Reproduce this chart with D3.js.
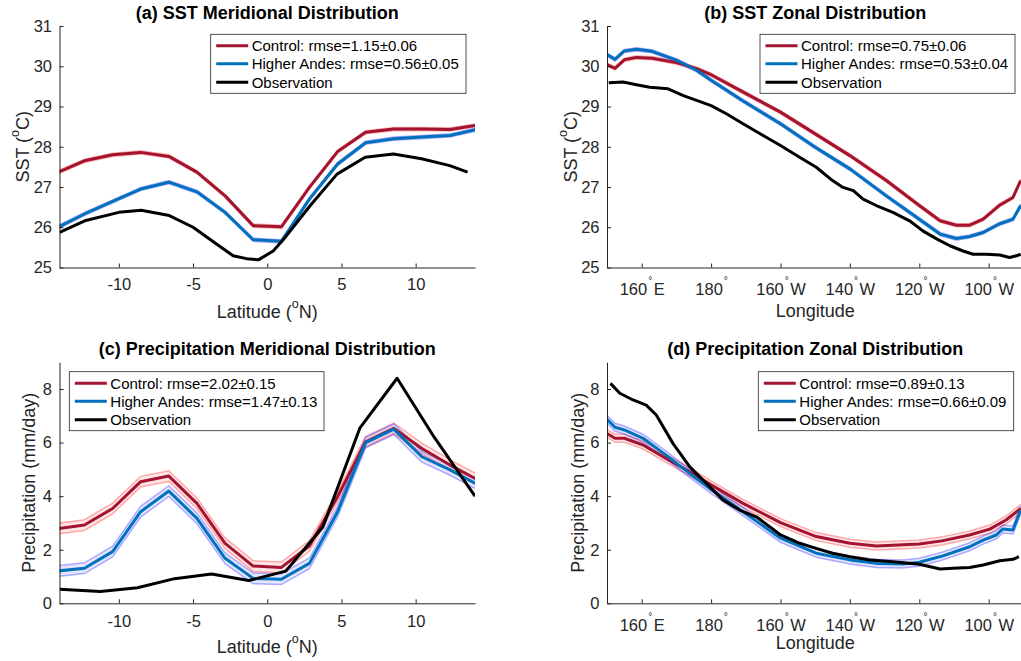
<!DOCTYPE html>
<html>
<head>
<meta charset="utf-8">
<script src="https://cdn.jsdelivr.net/npm/d3@7"></script>
<style>
  body { margin: 0; background: #fff; }
  svg { display: block; font-family: "Liberation Sans", Arial, Helvetica, sans-serif; }
</style>
</head>
<body>
<svg id="fig" width="1021" height="661"></svg>
<script>
// ---- data ----
var latModel = [-14.21, -12.32, -10.42, -8.53, -6.63, -4.74, -2.84, -0.95, 0.95, 2.84, 4.74, 6.63, 8.53, 10.42, 12.32, 14.21];

// (a) SST meridional
var sstMerCtl = [27.35, 27.65, 27.80, 27.86, 27.76, 27.37, 26.78, 26.04, 26.01, 26.99, 27.88, 28.36, 28.44, 28.44, 28.43, 28.54];
var sstMerHA  = [25.98, 26.33, 26.64, 26.95, 27.12, 26.88, 26.37, 25.69, 25.65, 26.70, 27.57, 28.10, 28.20, 28.24, 28.28, 28.44];
var sstMerObsLat = [-14, -12.3, -10, -8.5, -6.6, -5, -3.4, -2.3, -1.4, -0.6, 0.4, 1.1, 2.9, 4.7, 6.6, 8.5, 10.4, 12.3, 13.5];
var sstMerObs    = [25.87, 26.16, 26.37, 26.42, 26.29, 26.0, 25.58, 25.29, 25.22, 25.19, 25.41, 25.70, 26.54, 27.32, 27.74, 27.82, 27.70, 27.53, 27.37];

// (b) SST zonal (longitude in degrees east)
var sstZonLon = [150, 152.3, 155, 158.5, 163, 170, 175.8, 180, 189, 200, 210, 220, 230.5, 240, 246, 250.7, 254.5, 258.4, 263, 267, 269.2];
var sstZonCtl = [30.04, 29.95, 30.16, 30.22, 30.20, 30.09, 29.94, 29.79, 29.37, 28.86, 28.32, 27.78, 27.16, 26.54, 26.16, 26.05, 26.05, 26.20, 26.54, 26.74, 27.16];
var sstZonHA  = [30.29, 30.17, 30.38, 30.42, 30.37, 30.15, 29.90, 29.65, 29.15, 28.57, 27.99, 27.45, 26.78, 26.20, 25.83, 25.72, 25.77, 25.87, 26.08, 26.20, 26.54];
var sstZonObsLon = [150.5, 154.6, 158.5, 162.3, 167.6, 172, 175.8, 180, 184.4, 189.2, 195, 200, 205.5, 210.3, 215, 218, 221, 223.8, 227.6, 232.4, 237.2, 241, 245, 248.8, 252.6, 255.5, 259.3, 263.2, 266, 268, 269.2];
var sstZonObs    = [29.59, 29.61, 29.54, 29.48, 29.44, 29.27, 29.15, 29.02, 28.82, 28.57, 28.28, 28.03, 27.74, 27.49, 27.16, 26.99, 26.91, 26.70, 26.54, 26.37, 26.16, 25.91, 25.71, 25.54, 25.41, 25.33, 25.33, 25.31, 25.25, 25.29, 25.33];

// (c) precipitation meridional
var prMerCtl = [2.78, 2.92, 3.54, 4.54, 4.75, 3.73, 2.24, 1.39, 1.34, 2.14, 3.98, 6.03, 6.53, 5.78, 5.16, 4.60];
var prMerHA  = [1.20, 1.31, 1.93, 3.42, 4.19, 3.17, 1.68, 0.93, 0.90, 1.49, 3.42, 6.00, 6.50, 5.47, 4.98, 4.42];
var prMerObsLat = [-14, -11.25, -8.75, -6.25, -3.75, -1.25, 1.25, 3.75, 6.25, 8.75, 11.25, 14];
var prMerObs    = [0.52, 0.44, 0.58, 0.92, 1.09, 0.85, 1.20, 2.85, 6.55, 8.40, 6.20, 4.00];

// (d) precipitation zonal
var prZonCtlLon = [150, 152.3, 155, 160.4, 167, 173.8, 180, 189.2, 200, 210.3, 220, 227.6, 240, 246.5, 254.5, 260.3, 265, 269.2];
var prZonCtl    = [6.34, 6.16, 6.16, 5.91, 5.41, 4.91, 4.42, 3.73, 3.01, 2.49, 2.24, 2.14, 2.21, 2.33, 2.55, 2.77, 3.11, 3.54];
var prZonHALon  = [150, 152.3, 155, 160.4, 167, 173.8, 180, 189.2, 200, 210.3, 220, 227.6, 235.3, 240, 246.8, 254.5, 258.4, 262.2, 264, 267, 269.2];
var prZonHA     = [6.87, 6.57, 6.47, 6.16, 5.53, 4.85, 4.25, 3.42, 2.43, 1.87, 1.62, 1.49, 1.47, 1.53, 1.77, 2.11, 2.36, 2.55, 2.77, 2.74, 3.48];
var prZonObsLon = [151, 153.7, 157.5, 161.3, 164.2, 169, 173.8, 178.6, 183.4, 188.2, 193, 196.9, 200, 205.5, 210.3, 215, 220, 225.7, 232.4, 240, 246, 249.7, 254.5, 258.4, 263.2, 267, 268.7];
var prZonObs    = [8.21, 7.84, 7.59, 7.40, 7.03, 5.97, 5.10, 4.48, 3.86, 3.48, 3.23, 2.86, 2.55, 2.24, 2.05, 1.87, 1.74, 1.62, 1.55, 1.46, 1.28, 1.31, 1.34, 1.43, 1.59, 1.64, 1.74];

// ensemble spread (half width) per panel
var sprSstMer = 0.04, sprSstZon = 0.04, sprPrMer = 0.2, sprPrZon = 0.15;

// ticks
var latTicks = [-10, -5, 0, 5, 10];
var lonTicks = [160, 180, 200, 220, 240, 260];
var lonTickNum  = ['160', '180', '160', '140', '120', '100'];
var lonTickHemi = ['E', '', 'W', 'W', 'W', 'W'];
var sstTicks = [25, 26, 27, 28, 29, 30, 31];
var prTicks = [0, 2, 4, 6, 8];

var legA = ['Control: rmse=1.15\u00b10.06', 'Higher Andes: rmse=0.56\u00b10.05', 'Observation'];
var legB = ['Control: rmse=0.75\u00b10.06', 'Higher Andes: rmse=0.53\u00b10.04', 'Observation'];
var legC = ['Control: rmse=2.02\u00b10.15', 'Higher Andes: rmse=1.47\u00b10.13', 'Observation'];
var legD = ['Control: rmse=0.89\u00b10.13', 'Higher Andes: rmse=0.66\u00b10.09', 'Observation'];

var RED = '#A2142F', BLUE = '#0072BD', INK = '#262626';

var svg = d3.select('#fig');

function zip(xs, ys) { return xs.map(function(x, i) { return [x, ys[i]]; }); }

function panel(p) {
	var x = d3.scaleLinear().domain(p.xdom).range([p.x0, p.x1]);
	var y = d3.scaleLinear().domain(p.ydom).range([p.yb, p.yt]);
	var g = svg.append('g');

	g.append('clipPath').attr('id', 'clip' + p.id)
		.append('rect').attr('x', p.x0).attr('y', p.yt).attr('width', p.x1 - p.x0).attr('height', p.yb - p.yt);

	var plot = g.append('g').attr('clip-path', 'url(#clip' + p.id + ')');
	var line = d3.line().x(function(d) { return x(d[0]); }).y(function(d) { return y(d[1]); });
	var area = d3.area().x(function(d) { return x(d[0]); })
		.y0(function(d) { return y(d[1] - p.spr); }).y1(function(d) { return y(d[1] + p.spr); });

	[[p.ctl, '#ff0000'], [p.ha, '#0000ff']].forEach(function(s) {
		plot.append('path').attr('d', area(s[0])).attr('fill', s[1]).attr('fill-opacity', 0.1);
		[-1, 1].forEach(function(k) {
			plot.append('path')
				.attr('d', line(s[0].map(function(d) { return [d[0], d[1] + k * p.spr]; })))
				.attr('fill', 'none').attr('stroke', s[1]).attr('stroke-opacity', 0.3).attr('stroke-width', 1.5);
		});
	});
	plot.append('path').attr('d', line(p.ctl)).attr('fill', 'none').attr('stroke', RED).attr('stroke-width', 3).attr('stroke-linejoin', 'round');
	plot.append('path').attr('d', line(p.ha)).attr('fill', 'none').attr('stroke', BLUE).attr('stroke-width', 3).attr('stroke-linejoin', 'round');
	plot.append('path').attr('d', line(p.obs)).attr('fill', 'none').attr('stroke', '#000').attr('stroke-width', 3).attr('stroke-linejoin', 'round');

	// axes (ticks pointing inward, matlab-like)
	var xa = g.append('g').attr('transform', 'translate(0,' + p.yb + ')')
		.call(d3.axisBottom(x).tickValues(p.xticks).tickSizeInner(-4).tickSizeOuter(0).tickPadding(p.xpad)
			.tickFormat(function(d) { return d < 0 ? '-' + Math.abs(d) : d; }));
	var ya = g.append('g').attr('transform', 'translate(' + p.x0 + ',0)')
		.call(d3.axisLeft(y).tickValues(p.yticks).tickSizeInner(-4).tickSizeOuter(0).tickPadding(7.5)
			.tickFormat(d3.format('d')));
	[xa, ya].forEach(function(a) {
		a.select('.domain').attr('stroke', INK);
		a.selectAll('.tick line').attr('stroke', INK);
		a.selectAll('text').attr('fill', INK).style('font-size', '16.5px');
		a.attr('font-family', null).attr('font-size', null);
	});
	if (p.lon) {
		xa.selectAll('.tick text').each(function(d, i) {
			var t = d3.select(this).text(null);
			t.append('tspan').text(lonTickNum[i]);
			t.append('tspan').attr('dx', 1).attr('dy', -11).style('font-size', '10px').text('\u00b0');
			t.append('tspan').attr('dx', lonTickHemi[i] ? 1.5 : 0).attr('dy', 11).text(lonTickHemi[i]);
		});
	}

	// title and labels
	svg.append('text').attr('x', (p.x0 + p.x1) / 2).attr('y', p.titleY).attr('text-anchor', 'middle')
		.style('font-size', '18px').style('font-weight', 'bold').attr('fill', '#000').text(p.title);

	var xl = svg.append('text').attr('x', (p.x0 + p.x1) / 2).attr('y', p.xlabY).attr('text-anchor', 'middle')
		.style('font-size', '18px').attr('fill', INK);
	if (p.lon) xl.text('Longitude');
	else {
		xl.append('tspan').text('Latitude (');
		xl.append('tspan').attr('dy', -10).style('font-size', '12.5px').text('o');
		xl.append('tspan').attr('dy', 10).text('N)');
	}

	var yl = svg.append('text').attr('transform', 'translate(' + p.ylabX + ',' + (p.yt + p.yb) / 2 + ') rotate(-90)')
		.attr('text-anchor', 'middle').style('font-size', '18px').attr('fill', INK);
	if (p.sst) {
		yl.append('tspan').text('SST (');
		yl.append('tspan').attr('dy', -10).style('font-size', '12.5px').text('o');
		yl.append('tspan').attr('dy', 10).text('C)');
	} else yl.text('Precipitation (mm/day)');

	// legend
	var lg = svg.append('g').attr('transform', 'translate(' + p.legX + ',' + p.legY + ')');
	lg.append('rect').attr('x', 0).attr('y', 0).attr('width', p.legW).attr('height', 59)
		.attr('fill', '#fff').attr('stroke', INK).attr('stroke-width', 0.8);
	var rowsY = [11.5, 29.5, 48];
	[RED, BLUE, '#000'].forEach(function(c, i) {
		lg.append('line').attr('x1', 5.5).attr('x2', 37.5).attr('y1', rowsY[i]).attr('y2', rowsY[i])
			.attr('stroke', c).attr('stroke-width', 3);
		lg.append('text').attr('x', 41).attr('y', rowsY[i]).attr('dy', '0.36em')
			.style('font-size', '15px').attr('fill', '#000').text(p.leg[i]);
	});
}

panel({ id: 'a', title: '(a) SST Meridional Distribution', sst: true, lon: false,
	x0: 59.5, x1: 475, yt: 26, yb: 267.5, xdom: [-14, 14], ydom: [25, 31],
	xticks: latTicks, yticks: sstTicks, xpad: 10.7, titleY: 19, xlabY: 318, ylabX: 28.5,
	ctl: zip(latModel, sstMerCtl), ha: zip(latModel, sstMerHA), obs: zip(sstMerObsLat, sstMerObs), spr: sprSstMer,
	legX: 210.7, legY: 34.3, legW: 255.3, leg: legA });

panel({ id: 'b', title: '(b) SST Zonal Distribution', sst: true, lon: true,
	x0: 607, x1: 1023.4, yt: 26, yb: 267.5, xdom: [150, 270], ydom: [25, 31],
	xticks: lonTicks, yticks: sstTicks, xpad: 15.4, titleY: 19, xlabY: 317, ylabX: 576.5,
	ctl: zip(sstZonLon, sstZonCtl), ha: zip(sstZonLon, sstZonHA), obs: zip(sstZonObsLon, sstZonObs), spr: sprSstZon,
	legX: 760, legY: 34.3, legW: 255, leg: legB });

panel({ id: 'c', title: '(c) Precipitation Meridional Distribution', sst: false, lon: false,
	x0: 59.5, x1: 475, yt: 362.2, yb: 603.3, xdom: [-14, 14], ydom: [0, 9],
	xticks: latTicks, yticks: prTicks, xpad: 12.2, titleY: 355, xlabY: 653, ylabX: 35,
	ctl: zip(latModel, prMerCtl), ha: zip(latModel, prMerHA), obs: zip(prMerObsLat, prMerObs), spr: sprPrMer,
	legX: 69.3, legY: 371.7, legW: 254.7, leg: legC });

panel({ id: 'd', title: '(d) Precipitation Zonal Distribution', sst: false, lon: true,
	x0: 607, x1: 1023.4, yt: 362.2, yb: 603.3, xdom: [150, 270], ydom: [0, 9],
	xticks: lonTicks, yticks: prTicks, xpad: 16.2, titleY: 355, xlabY: 648.5, ylabX: 584,
	ctl: zip(prZonCtlLon, prZonCtl), ha: zip(prZonHALon, prZonHA), obs: zip(prZonObsLon, prZonObs), spr: sprPrZon,
	legX: 758.3, legY: 371.7, legW: 255.4, leg: legD });
</script>
</body>
</html>
